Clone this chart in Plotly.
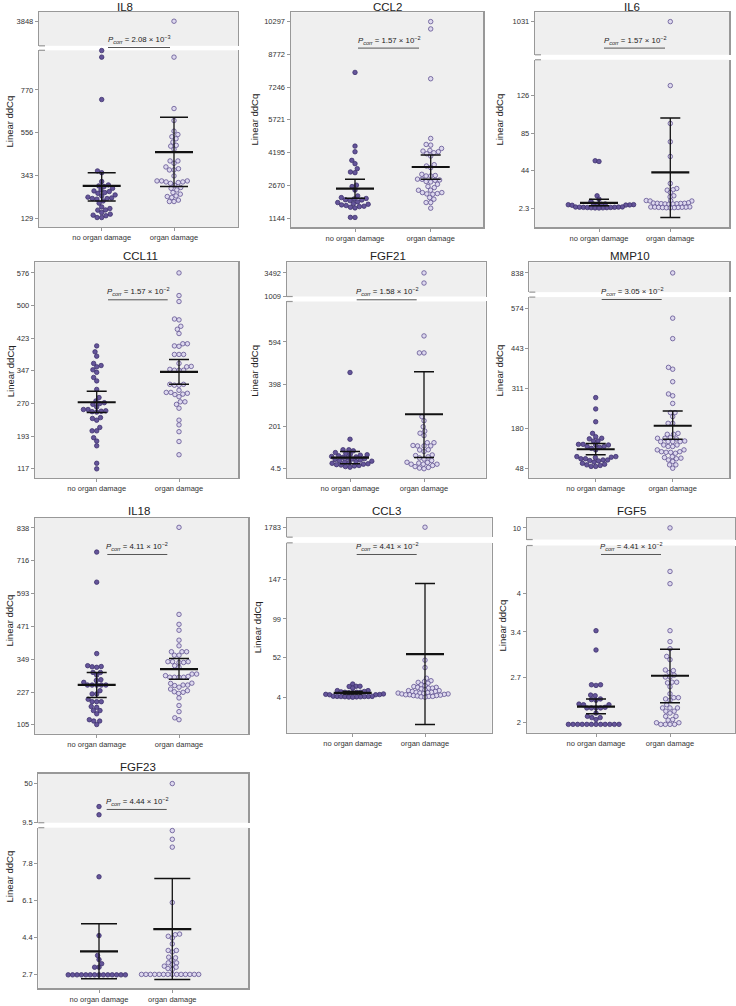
import math
import plotly.graph_objects as go

W, H = 736, 1006
categories = ["no organ damage", "organ damage"]

# ---------------- data ----------------
il8_no = [967, 934, 722, 365, 356, 312, 295, 290, 287, 278, 270, 265, 262, 257, 253, 245, 240, 234,
          230, 227, 227, 224, 215, 204, 185, 177, 170, 169, 157, 149, 144, 141, 132, 132]
il8_od = [3848, 934, 677, 617, 564, 547, 536, 526, 509, 493, 489, 473, 415, 415, 403, 385, 376, 370,
          370, 340, 315, 315, 315, 310, 310, 307, 303, 293, 282, 278, 270, 257, 249, 240, 237, 232,
          219, 212, 212]
il8_mean = [290, 459]
il8_low = [215, 287]
il8_high = [356, 634]
il8_ticks = [129, 343, 556, 770]
il8_ticks_top = [3848]
il8_p = (2.08, -3)

ccl2_no = [7931, 4499, 4236, 3834, 3680, 3448, 3293, 3262, 2680, 2615, 2450, 2180, 2100, 2060, 2040,
           2000, 1990, 1960, 1900, 1870, 1820, 1790, 1760, 1730, 1700, 1680, 1650, 1620, 1180, 1175]
ccl2_od = [10297, 9956, 7637, 4855, 4576, 4545, 4390, 4298, 4267, 4236, 4190, 4143, 4035, 3633, 3571,
           3494, 3185, 3130, 3107, 3107, 2960, 2953, 2921, 2906, 2850, 2829, 2721, 2620, 2566, 2443,
           2443, 2334, 2334, 2288, 2273, 2257, 2103, 2025, 1871, 1871, 1608]
ccl2_mean = [2520, 3525]
ccl2_low = [2072, 2953]
ccl2_high = [2953, 4081]
ccl2_ticks = [1144, 2670, 4195, 5721, 7246, 8772, 10297]
ccl2_ticks_top = []
ccl2_p = (1.57, -2)

il6_no = [54.6, 53.8, 16.2, 12.5, 10.2, 7.2, 7, 6.9, 6.7, 6.5, 6.4, 6.2, 6, 5.8, 4, 3.9, 3.8, 3.7,
          3.6, 3.5, 3.4, 3.3, 3.2, 3.1, 3.0, 2.9, 2.8]
il6_od = [1031, 137, 95.5, 75.4, 59.3, 29.7, 24.2, 22.8, 22.4, 19.8, 16.2, 15, 11, 10.8, 10.5, 10.5,
          8.5, 8.2, 8, 8, 7.8, 7.6, 7.5, 7.3, 7.2, 7, 4, 3.9, 3.8, 3.7, 3.6, 3.5, 3.4, 3.3, 3.2, 3.1, 3.0]
il6_mean = [8.5, 41.8]
il6_low = [5.2, -7.6]
il6_high = [12.5, 101.4]
il6_ticks = [2.3, 44, 85, 126]
il6_ticks_top = [1031]
il6_p = (1.57, -2)

ccl11_no = [405, 391, 381, 364, 359, 356, 349, 343, 331, 323, 303, 284, 276, 272, 270, 268, 262, 256,
            256, 253, 252, 251, 250, 237, 235, 231, 214, 206, 206, 190, 182, 171, 130, 117]
ccl11_od = [576, 523, 509, 468, 466, 451, 444, 434, 410, 410, 405, 404, 385, 385, 385, 364, 357, 356,
            350, 348, 348, 348, 315, 315, 313, 313, 301, 296, 296, 294, 292, 291, 286, 274, 274, 268,
            259, 231, 220, 204, 181, 150]
ccl11_mean = [273, 344]
ccl11_low = [249, 315]
ccl11_high = [299, 373]
ccl11_ticks = [117, 193, 270, 347, 423, 500, 576]
ccl11_ticks_top = []
ccl11_p = (1.57, -2)

fgf21_no = [452, 142, 93, 93, 88, 80, 76, 72, 70, 68, 65, 62, 60, 58, 55, 52, 50, 48, 45, 42, 40, 38,
            36, 33, 30, 28, 26, 24, 22, 20, 18, 15, 12]
fgf21_od = [3492, 2413, 622, 543, 543, 247, 228, 200, 180, 170, 159, 126, 126, 113, 111, 111, 111, 93,
            92, 85, 69, 66, 60, 55, 50, 43, 35, 34, 31, 26, 26, 26, 20, 15, 11, 8, 5]
fgf21_mean = [57, 258]
fgf21_low = [28, 57]
fgf21_high = [85, 455]
fgf21_ticks = [4.5, 201, 398, 594]
fgf21_ticks_top = [1009, 3492]
fgf21_p = (1.58, -2)

mmp10_no = [281, 244, 202, 164, 153, 148, 146, 139, 139, 128, 128, 126, 126, 121, 121, 118, 115, 110,
            88, 88, 86, 85, 81, 81, 77, 77, 75, 74, 70, 66, 63, 61, 59, 56, 56]
mmp10_od = [838, 541, 474, 380, 374, 333, 293, 287, 262, 232, 232, 219, 197, 197, 164, 161, 161, 150,
            148, 148, 146, 139, 137, 137, 137, 137, 126, 126, 121, 121, 110, 110, 104, 104, 102, 102,
            99, 88, 85, 83, 81, 77, 72, 61, 61, 50]
mmp10_mean = [112, 189]
mmp10_low = [94, 145]
mmp10_high = [131, 237]
mmp10_ticks = [48, 180, 311, 443, 574]
mmp10_ticks_top = [838]
mmp10_p = (3.05, -2)

il18_no = [748, 636, 370, 325, 322, 321, 319, 300, 300, 290, 273, 270, 263, 253, 253, 253, 253, 253,
           232, 220, 220, 200, 191, 191, 191, 173, 170, 158, 158, 146, 124, 119, 119, 106]
il18_od = [840, 516, 479, 457, 420, 399, 377, 377, 377, 364, 364, 340, 340, 340, 337, 337, 325, 319,
           294, 294, 288, 285, 282, 282, 282, 282, 260, 259, 253, 253, 251, 245, 238, 232, 228, 226,
           222, 205, 177, 154, 131, 124]
il18_mean = [254, 312]
il18_low = [207, 275]
il18_high = [300, 352]
il18_ticks = [105, 227, 349, 471, 593, 716, 838]
il18_ticks_top = []
il18_p = (4.11, -2)

ccl3_no = [20, 17.3, 17.3, 17, 15, 12, 12, 11, 10.5, 10, 10, 10, 9.5, 9.5, 8, 7.5, 7.2, 7, 7, 5.2, 5,
           5, 4.9, 4.8, 4.8, 4.6, 4.5, 4.4, 4.2, 4]
ccl3_od = [1783, 49, 40, 27, 24, 23, 22, 21, 19, 18, 17, 16, 16, 15, 15, 14, 13, 12, 12, 11, 11, 10,
           10, 9.5, 9, 9, 8.5, 8, 8, 7.5, 7, 7, 6.5, 6, 6, 5.5, 5, 5, 4.5, 4]
ccl3_mean = [9.2, 56.4]
ccl3_low = [8.0, -29]
ccl3_high = [10.9, 142]
ccl3_ticks = [4, 52, 99, 147]
ccl3_ticks_top = [1783]
ccl3_p = (4.41, -2)

fgf5_no = [3.42, 3.12, 2.58, 2.58, 2.57, 2.42, 2.41, 2.36, 2.35, 2.34, 2.28, 2.27, 2.27, 2.23, 2.22,
           2.22, 2.22, 2.22, 2.14, 2.09, 2.07, 2.07, 2.04, 1.965, 1.965, 1.965, 1.965, 1.965, 1.965,
           1.965, 1.965, 1.965, 1.965, 1.965, 1.965]
fgf5_od = [10, 4.34, 4.15, 3.42, 3.25, 3.14, 3.02, 2.97, 2.81, 2.8, 2.77, 2.73, 2.7, 2.7, 2.62, 2.62,
           2.61, 2.55, 2.44, 2.38, 2.38, 2.36, 2.34, 2.27, 2.22, 2.22, 2.22, 2.17, 2.17, 2.14, 2.09,
           2.09, 2.04, 2.03, 1.99, 1.99, 1.965, 1.965, 1.965, 1.965]
fgf5_mean = [2.24, 2.72]
fgf5_low = [2.13, 2.30]
fgf5_high = [2.36, 3.13]
fgf5_ticks = [2, 2.7, 3.4, 4]
fgf5_ticks_top = [10]
fgf5_p = (4.41, -2)

fgf23_no = [26, 17.4, 7.18, 4.48, 3.57, 3.38, 3.19, 3.03, 3.03, 2.68, 2.68, 2.68, 2.68, 2.68, 2.68,
            2.68, 2.68, 2.68, 2.68, 2.68, 2.68, 2.68, 2.68]
fgf23_od = [50, 9.3, 8.9, 8.54, 6.0, 4.55, 4.52, 4.45, 4.37, 4.1, 3.8, 3.8, 3.73, 3.49, 3.46, 3.35,
            3.23, 3.23, 3.15, 3.08, 3.03, 2.97, 2.93, 2.7, 2.7, 2.7, 2.7, 2.7, 2.7, 2.7, 2.7, 2.7, 2.7,
            2.7, 2.7, 2.7, 2.7]
fgf23_mean = [3.76, 4.78]
fgf23_low = [2.5, 2.47]
fgf23_high = [5.02, 7.1]
fgf23_ticks = [2.7, 4.4, 6.1, 7.8]
fgf23_ticks_top = [9.5, 50]
fgf23_p = (4.44, -2)

genes = ["IL8", "CCL2", "IL6", "CCL11", "FGF21", "MMP10", "IL18", "CCL3", "FGF5", "FGF23"]
series = {
    "IL8": (il8_no, il8_od, il8_mean, il8_low, il8_high, il8_ticks, il8_ticks_top, il8_p),
    "CCL2": (ccl2_no, ccl2_od, ccl2_mean, ccl2_low, ccl2_high, ccl2_ticks, ccl2_ticks_top, ccl2_p),
    "IL6": (il6_no, il6_od, il6_mean, il6_low, il6_high, il6_ticks, il6_ticks_top, il6_p),
    "CCL11": (ccl11_no, ccl11_od, ccl11_mean, ccl11_low, ccl11_high, ccl11_ticks, ccl11_ticks_top, ccl11_p),
    "FGF21": (fgf21_no, fgf21_od, fgf21_mean, fgf21_low, fgf21_high, fgf21_ticks, fgf21_ticks_top, fgf21_p),
    "MMP10": (mmp10_no, mmp10_od, mmp10_mean, mmp10_low, mmp10_high, mmp10_ticks, mmp10_ticks_top, mmp10_p),
    "IL18": (il18_no, il18_od, il18_mean, il18_low, il18_high, il18_ticks, il18_ticks_top, il18_p),
    "CCL3": (ccl3_no, ccl3_od, ccl3_mean, ccl3_low, ccl3_high, ccl3_ticks, ccl3_ticks_top, ccl3_p),
    "FGF5": (fgf5_no, fgf5_od, fgf5_mean, fgf5_low, fgf5_high, fgf5_ticks, fgf5_ticks_top, fgf5_p),
    "FGF23": (fgf23_no, fgf23_od, fgf23_mean, fgf23_low, fgf23_high, fgf23_ticks, fgf23_ticks_top, fgf23_p),
}

# ---------------- layout (page pixels) ----------------
panels = {
    "IL8": dict(box=(39, 238, 12, 228), brk=(46, 50.5), cats=(101.7, 174), cal=(129, 219.0, 770, 90.3),
                cal_top=(3848, 21.3), title=(125, 7), ytitle=(10, 122), pline=(108, 170, 47.7), cap=14,
                dot=4.6),
    "CCL2": dict(box=(290.7, 483.3, 12.3, 228.3), brk=None, cats=(355, 430.7), cal=(1144, 219, 10297, 21.7),
                 cal_top=None, title=(387.7, 7), ytitle=(255, 120), pline=(358, 419, 48.3), cap=10, dot=4.6),
    "IL6": dict(box=(535, 729.3, 12.3, 228.3), brk=(55, 60), cats=(599, 670.3), cal=(2.3, 209.3, 126, 96),
                cal_top=(1031, 21.7), title=(631.7, 7), ytitle=(500, 120), pline=(604, 665, 48.3), cap=10,
                dot=3.9),
    "CCL11": dict(box=(35, 238.3, 263.3, 480), brk=None, cats=(96.7, 179), cal=(117, 470.7, 576, 274),
                  cal_top=None, title=(140, 257.3), ytitle=(10, 372.7), pline=(108, 167.7, 301), cap=10,
                  dot=4.6),
    "FGF21": dict(box=(286.7, 485.7, 263.3, 480), brk=(297.7, 302.7), cats=(350, 424),
                  cal=(4.5, 470.7, 594, 343.3), cal_top=(1009, 297.4, 3492, 274), title=(387.7, 257.3),
                  ytitle=(254.3, 372), pline=(356.7, 416.7, 301), cap=10, dot=4.6),
    "MMP10": dict(box=(529.3, 729.3, 263.3, 480), brk=(293.3, 298.3), cats=(595.7, 672.7),
                  cal=(48, 470.7, 574, 309.3), cal_top=(838, 274), title=(630, 257.3),
                  ytitle=(500, 372), pline=(601.7, 661.7, 300.7), cap=10, dot=4.6),
    "IL18": dict(box=(35, 248.3, 520, 736.7), brk=None, cats=(96.7, 179), cal=(105, 727.7, 838, 530),
                 cal_top=None, title=(139.3, 513.3), ytitle=(10, 623), pline=(107.3, 167.3, 556.7), cap=10,
                 dot=4.6),
    "CCL3": dict(box=(286.7, 491.7, 520, 735.7), brk=(539.3, 545), cats=(352.7, 425),
                 cal=(4, 700, 147, 581.7), cal_top=(1783, 529.3), title=(386, 513.3),
                 ytitle=(257.7, 630), pline=(356.7, 416.7, 556.7), cap=10, dot=3.9),
    "FGF5": dict(box=(526.7, 735, 520, 735.7), brk=(541.7, 547.7), cats=(596, 670),
                 cal=(2, 725, 4, 595.7), cal_top=(10, 530), title=(631, 513.3),
                 ytitle=(503, 628), pline=(601, 661, 556.7), cap=10, dot=4.6),
    "FGF23": dict(box=(38.3, 248.3, 776.7, 992.3), brk=(826, 831), cats=(99, 172.3),
                  cal=(2.7, 978.3, 7.8, 866.7), cal_top=(50, 786.7, 9.5, 825.6), title=(138.3, 770),
                  ytitle=(10, 880), pline=(106.7, 166.7, 812.7), cap=18, dot=4.4),
}

FONT = "Liberation Sans, Arial, sans-serif"
FRAME = "#989898"
BG = "#efefef"
FILL = ["#65559a", "#ddd8ee"]
EDGE = ["#3a2e6a", "#5a4b8c"]
DOT_SIZE = 4.5
MEAN_HALF = 19       # px

def px_x(p):
    return p / W

def px_y(p):
    return 1 - p / H

def yrange(cal, top_px, bot_px, scale=None):
    v0, p0 = cal[0], cal[1]
    if len(cal) >= 4:
        s = (cal[2] - v0) / (p0 - cal[3])
    else:
        s = scale
    return [v0 - (bot_px - p0) * s, v0 + (p0 - top_px) * s], s

def swarm(ypx, d):
    n = len(ypx)
    order = sorted(range(n), key=lambda i: -ypx[i])
    placed = []
    out = [0.0] * n
    for i in order:
        y = ypx[i]
        cands = [0.0]
        for qx, qy in placed:
            dy = abs(y - qy)
            if dy < d:
                dx = math.sqrt(d * d - dy * dy)
                cands += [qx + dx, qx - dx]
        cands.sort(key=lambda c: (abs(c), c))
        for c in cands:
            if all((c - qx) ** 2 + (y - qy) ** 2 >= d * d - 1e-6 for qx, qy in placed):
                out[i] = c
                break
        placed.append((out[i], y))
    return out

fig = go.Figure()
layout = {}
shapes = []
annotations = []
k = 0

def names(idx):
    suf = "" if idx == 1 else str(idx)
    return "x" + suf, "y" + suf, "xaxis" + suf, "yaxis" + suf

for g in genes:
    no, od, mean, low, high, ticks, ticks_top, pval = series[g]
    P = panels[g]
    l, r, t, b = P["box"]
    c0, c1 = P["cats"]
    cs = c1 - c0
    xr = [-(c0 - l) / cs, (r - c0) / cs]
    brk = P["brk"]
    bot_top_px = brk[1] if brk else t
    brange, bscale = yrange(P["cal"], bot_top_px, b)

    k += 1
    xb, yb, xkb, ykb = names(k)
    layout[xkb] = dict(domain=[px_x(l), px_x(r)], range=xr, anchor=yb, showgrid=False, zeroline=False,
                       showline=True, linecolor=FRAME, linewidth=1.2, mirror=(brk is None),
                       ticks="outside", ticklen=3, tickcolor=FRAME, tickvals=[0, 1], ticktext=categories,
                       tickfont=dict(family=FONT, size=7.5, color="#333"), fixedrange=True)
    layout[ykb] = dict(domain=[px_y(b), px_y(bot_top_px)], range=brange, anchor=xb, showgrid=False,
                       zeroline=False, showline=True, linecolor=FRAME, linewidth=1.2, mirror=True,
                       ticks="outside", ticklen=3, tickcolor=FRAME, tickvals=ticks,
                       ticktext=[f"{v:g}" for v in ticks],
                       tickfont=dict(family=FONT, size=7.5, color="#333"), fixedrange=True)
    top_ids = None
    if brk:
        k += 1
        xt, yt, xkt, ykt = names(k)
        trange, _ = yrange(P["cal_top"], t, brk[0], bscale)
        layout[xkt] = dict(domain=[px_x(l), px_x(r)], range=xr, anchor=yt, side="top", showgrid=False,
                           zeroline=False, showline=True, linecolor=FRAME, linewidth=1.2,
                           showticklabels=False, ticks="", fixedrange=True)
        layout[ykt] = dict(domain=[px_y(brk[0]), px_y(t)], range=trange, anchor=xt, showgrid=False,
                           zeroline=False, showline=True, linecolor=FRAME, linewidth=1.2, mirror=True,
                           ticks="outside", ticklen=3, tickcolor=FRAME, tickvals=ticks_top,
                           ticktext=[f"{v:g}" for v in ticks_top],
                           tickfont=dict(family=FONT, size=7.5, color="#333"), fixedrange=True)
        top_ids = (xt, yt, trange)
        for e in brk:
            shapes.append(dict(type="line", xref="paper", yref="paper", x0=px_x(l), x1=px_x(l + 6),
                               y0=px_y(e), y1=px_y(e), line=dict(color=FRAME, width=1.2)))

    for gi, vals in enumerate([no, od]):
        parts = [(yb, xb, brange, b - bot_top_px, [v for v in vals if v <= brange[1]])]
        if top_ids:
            parts.append((top_ids[1], top_ids[0], top_ids[2], brk[0] - t,
                          [v for v in vals if v > brange[1]]))
        for ya, xa, rg, seg_h, vv in parts:
            if not vv:
                continue
            ypx = [(rg[1] - v) / (rg[1] - rg[0]) * seg_h for v in vv]
            offs = swarm(ypx, P["dot"])
            fig.add_trace(go.Scatter(
                x=[gi + o / cs for o in offs], y=vv, xaxis=xa, yaxis=ya, mode="markers",
                cliponaxis=False, showlegend=False, hoverinfo="skip",
                marker=dict(size=DOT_SIZE, color=FILL[gi], line=dict(color=EDGE[gi], width=0.75))))

    mh = MEAN_HALF / cs
    ch = P["cap"] / cs
    mx, my, cx, cy, sx, sy = [], [], [], [], [], []
    for gi in range(2):
        mx += [gi - mh, gi + mh, None]
        my += [mean[gi], mean[gi], None]
        cx += [gi - ch, gi + ch, None, gi - ch, gi + ch, None]
        cy += [low[gi], low[gi], None, high[gi], high[gi], None]
        sx += [gi, gi, None]
        sy += [low[gi], high[gi], None]
    fig.add_trace(go.Scatter(x=sx, y=sy, xaxis=xb, yaxis=yb, mode="lines", showlegend=False,
                             hoverinfo="skip", line=dict(color="#111", width=1.3), cliponaxis=False))
    fig.add_trace(go.Scatter(x=cx, y=cy, xaxis=xb, yaxis=yb, mode="lines", showlegend=False,
                             hoverinfo="skip", line=dict(color="#111", width=1.5), cliponaxis=False))
    fig.add_trace(go.Scatter(x=mx, y=my, xaxis=xb, yaxis=yb, mode="lines", showlegend=False,
                             hoverinfo="skip", line=dict(color="#111", width=2.2), cliponaxis=False))

    tx, ty = P["title"]
    annotations.append(dict(text=g, x=px_x(tx), y=px_y(ty), xref="paper", yref="paper", showarrow=False,
                            xanchor="center", yanchor="middle",
                            font=dict(family=FONT, size=11.5, color="#222")))
    yx, yy = P["ytitle"]
    annotations.append(dict(text="Linear ddCq", x=px_x(yx), y=px_y(yy), xref="paper", yref="paper",
                            showarrow=False, textangle=-90, xanchor="center", yanchor="middle",
                            font=dict(family=FONT, size=9.5, color="#222")))
    p0, p1, py = P["pline"]
    shapes.append(dict(type="line", xref="paper", yref="paper", x0=px_x(p0), x1=px_x(p1),
                       y0=px_y(py), y1=px_y(py), line=dict(color="#555", width=1)))
    mant, ex = pval
    ptxt = f"<i>P</i><sub><i>corr</i></sub> = {mant:.2f} × 10<sup>−{abs(ex)}</sup>"
    annotations.append(dict(text=ptxt, x=px_x((p0 + p1) / 2), y=px_y(py - 0.5), xref="paper",
                            yref="paper", showarrow=False, xanchor="center", yanchor="bottom",
                            font=dict(family=FONT, size=7.8, color="#222")))

fig.update_layout(**layout)
fig.update_layout(width=W, height=H, margin=dict(l=0, r=0, t=0, b=0), paper_bgcolor="white",
                  plot_bgcolor=BG, shapes=shapes, annotations=annotations, showlegend=False)
fig.write_html("out.html", config={"displayModeBar": False, "staticPlot": True},
               post_script="document.body.style.margin='0px';document.body.style.padding='0px';"
                           "document.body.style.overflow='hidden';")
